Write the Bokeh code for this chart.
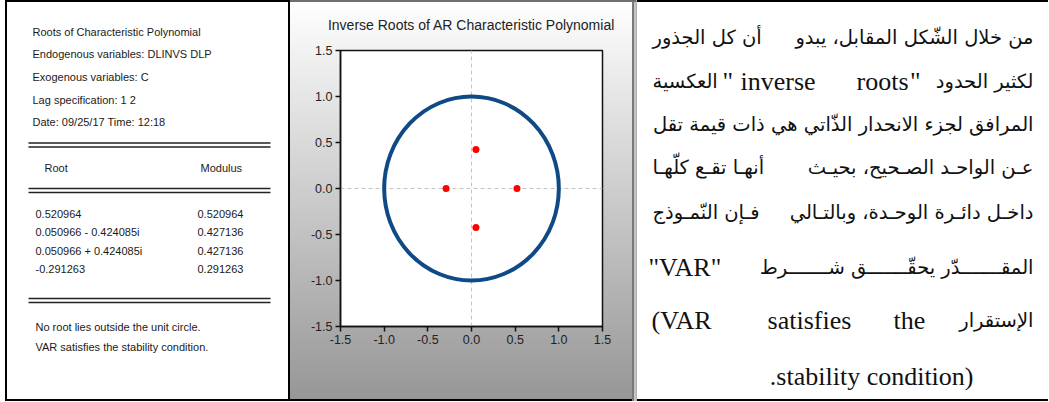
from bokeh.plotting import figure
from bokeh.layouts import row
from bokeh.models import (Range1d, FixedTicker, PrintfTickFormatter, Label, LabelSet,
                          ColumnDataSource, Plot)
from bokeh.core.properties import value
from bokeh.embed import file_html
from bokeh.resources import INLINE

# ---------------- data ----------------
root_real = [0.520964, 0.050966, 0.050966, -0.291263]
root_imag = [0.0, -0.424085, 0.424085, 0.0]
root_text = ["0.520964", "0.050966 - 0.424085i", "0.050966 + 0.424085i", "-0.291263"]
root_modulus = ["0.520964", "0.427136", "0.427136", "0.291263"]
axis_ticks = [-1.5, -1.0, -0.5, 0.0, 0.5, 1.0, 1.5]
unit_circle_x = [0.0]
unit_circle_y = [0.0]
unit_circle_diameter = [2.0]

header_lines = [
    "Roots of Characteristic Polynomial",
    "Endogenous variables: DLINVS DLP",
    "Exogenous variables: C",
    "Lag specification: 1 2",
    "Date: 09/25/17   Time: 12:18",
]
table_columns = ["Root", "Modulus"]
footer_lines = [
    "No root lies outside the unit circle.",
    "VAR satisfies the stability condition.",
]
chart_title = "Inverse Roots of AR Characteristic Polynomial"

# right-hand paragraph, split into visual pieces (text, line index, script)
para_pieces = [
    ("من خلال الشّكل المقابل، يبدو", 0, "ar"), ("أن كل الجذور", 0, "ar"),
    ("العكسية", 1, "ar"), ('"', 1, "la"), ("inverse", 1, "la"), ("roots", 1, "la"),
    ('"', 1, "la"), ("لكثير الحدود", 1, "ar"),
    ("المرافق لجزء الانحدار الذّاتي هي ذات قيمة تقل", 2, "ar"),
    ("عـن الواحـد الصـحيح، بحيـث", 3, "ar"), ("أنهـا تقـع كلّهـا", 3, "ar"),
    ("داخـل دائـرة الوحـدة، وبالتـالي", 4, "ar"), ("فـإن النّمـوذج", 4, "ar"),
    ('"VAR"', 5, "la"), ("المقـــــــدّر يحقّـــــــق شـــــــرط", 5, "ar"),
    ("(VAR", 6, "la"), ("satisfies", 6, "la"), ("the", 6, "la"), ("الإستقرار", 6, "ar"),
    (".stability condition)", 7, "la"),
]
# layout (pixel) positions for the pieces, in the right panel
piece_x = [397, 16,
           16, 86, 104, 272, 284, 397,
           397,
           397, 16, 397, 16,
           12, 397,
           15, 173, 273, 397,
           337]
piece_align = ["right", "left",
               "left", "left", "left", "right", "right", "right",
               "right",
               "right", "left", "right", "left",
               "left", "right",
               "left", "center", "center", "right",
               "right"]
line_baselines = [37, 81, 124, 167, 212, 267, 320, 376]

H = 401
LW, MW, RW = 290, 346, 412
FRAME_TOP, FRAME_BOTTOM = 50, 326          # pixel rows of the chart frame
NO_ALIGN = {"frame_align": False} if "frame_align" in Plot.properties() else {}


def blank_panel(w):
    # full-size frame; 1 data unit = 1 px, y growing downwards
    p = figure(width=w, height=H, x_range=Range1d(0, w), y_range=Range1d(H, 0),
               toolbar_location=None, output_backend="svg", x_axis_type=None,
               y_axis_type=None, title=None, min_border=0, min_border_left=0,
               min_border_right=0, min_border_top=0, min_border_bottom=0,
               outline_line_color=None, border_fill_color=None, background_fill_color=None,
               **NO_ALIGN)
    p.grid.visible = False
    return p


# ---------------- left panel: table ----------------
left = blank_panel(LW)
left.styles = {"background": "#ffffff",
               "box-shadow": "inset 5px 0 0 #ffffff, inset 7px 0 0 #000000, "
                             "inset -2px 0 0 #000, inset 0 2px 0 #000, inset 0 -2px 0 #000"}
FONT_L = value("Liberation Sans")


def add_labels(p, xs, ys, texts):
    src = ColumnDataSource(dict(x=xs, y=ys, text=texts))
    p.add_layout(LabelSet(x="x", y="y", text="text", source=src, text_font=FONT_L,
                          text_font_size="11px", text_baseline="middle",
                          text_color="#1a1a1a"))


add_labels(left, [32] * 5, [31, 53.5, 76, 99, 121.5], header_lines)
left.segment(x0=[28] * 6, x1=[270] * 6, y0=[142.5, 146.5, 188, 192, 298, 302],
             y1=[142.5, 146.5, 188, 192, 298, 302], line_color="#222222", line_width=1.5)
add_labels(left, [44, 200], [167, 167], table_columns)
row_y = [213, 231, 250, 268]
add_labels(left, [35] * 4, row_y, root_text)
add_labels(left, [197] * 4, row_y, root_modulus)
add_labels(left, [35, 35], [326.5, 346.5], footer_lines)

# ---------------- middle panel: unit circle chart ----------------
mid = figure(width=MW, height=H, x_range=Range1d(-1.5, 1.5), y_range=Range1d(-1.5, 1.5),
             toolbar_location=None, output_backend="svg", title=chart_title,
             min_border_left=50, min_border_right=34, min_border_top=FRAME_TOP,
             min_border_bottom=H - FRAME_BOTTOM,
             border_fill_color=None, background_fill_color="#ffffff",
             outline_line_color="#111111", outline_line_width=1.5, **NO_ALIGN)
mid.styles = {"background": "linear-gradient(to bottom, #ffffff 0%, #969696 100%)",
              "box-shadow": "inset 0 2px 0 #6e6e6e, inset -2px 0 0 #c4c4c4, "
                            "inset -4px 0 0 #7a7a7a, inset 0 -2px 0 #000"}
mid.title.align = "center"
mid.title.vertical_align = "top"
mid.title.text_font = "Liberation Sans"
mid.title.text_font_size = "14px"
mid.title.text_font_style = "normal"
mid.title.text_color = "#222222"
mid.title.standoff = 31

for ax in (mid.xaxis[0], mid.yaxis[0]):
    ax.ticker = FixedTicker(ticks=axis_ticks)
    ax.formatter = PrintfTickFormatter(format="%.1f")
    ax.axis_line_color = "#111111"
    ax.axis_line_width = 1.5
    ax.major_tick_line_color = "#111111"
    ax.major_tick_line_width = 1.5
    ax.major_tick_out = 5
    ax.major_tick_in = 0
    ax.minor_tick_line_color = None
    ax.major_label_text_font = "Liberation Sans"
    ax.major_label_text_font_size = "12.5px"
    ax.major_label_text_color = "#222222"
    ax.major_label_standoff = 3

for g in (mid.xgrid[0], mid.ygrid[0]):
    g.ticker = FixedTicker(ticks=[0.0])
    g.grid_line_color = "#c4c4c4"
    g.grid_line_dash = "4 3"
    g.grid_line_width = 1

mid.ellipse(x=unit_circle_x, y=unit_circle_y, width=unit_circle_diameter,
            height=unit_circle_diameter, fill_color=None, line_color="#0f4a87", line_width=4)
mid.scatter(x=root_real, y=root_imag, size=7, fill_color="#ff0000", line_color=None)

# ---------------- right panel: Arabic commentary ----------------
right = blank_panel(RW)
right.styles = {"background": "#ffffff",
                "box-shadow": "inset 1px 0 0 #b0b0b0, inset 0 2px 0 #000, inset 0 -2px 0 #000"}
for (txt, li, script), px, al in zip(para_pieces, piece_x, piece_align):
    if script == "ar":
        font, size = "DejaVu Sans", "19.5px"
    else:
        font, size = "Liberation Serif", "26px"
    right.add_layout(Label(x=px, y=line_baselines[li], text=txt, text_font=font,
                           text_font_size=size, text_align=al, text_baseline="alphabetic",
                           text_color="#111111"))

layout = row(left, mid, right)
open("out.html", "w").write(file_html(layout, INLINE))
